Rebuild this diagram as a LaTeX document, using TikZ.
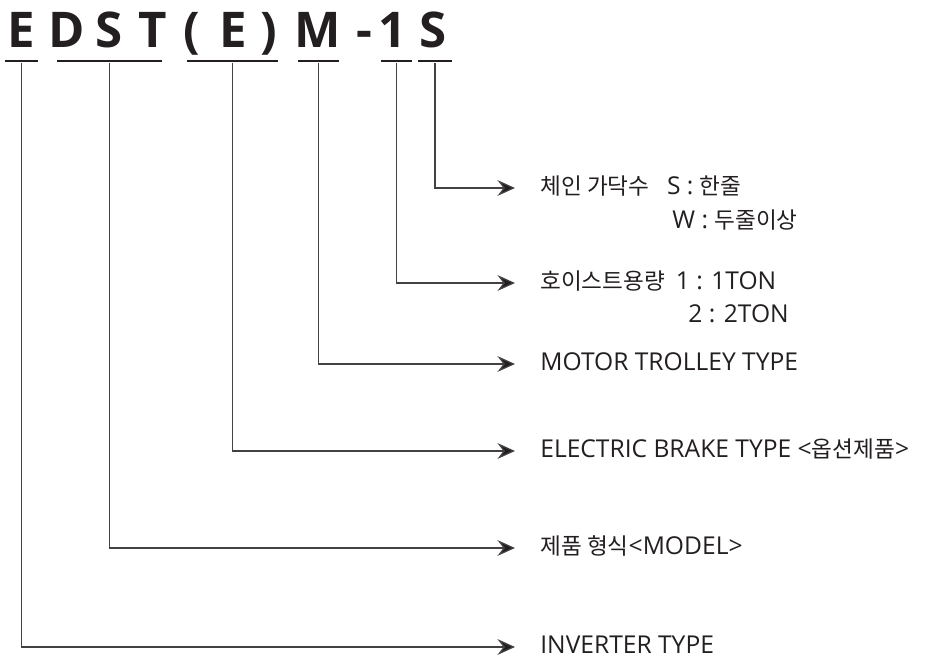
\documentclass[tikz,border=0pt]{standalone}
\usepackage{fontspec}
\setmainfont{Open Sans}
\newfontfamily\kr[Scale=0.92]{Noto Sans CJK KR}
\usetikzlibrary{arrows.meta}
\definecolor{ink}{HTML}{231F20}
\tikzset{
  codechar/.style={anchor=base, inner sep=0pt,
    font=\fontsize{28}{30}\selectfont\bfseries, text=ink},
  codebar/.style={fill=ink, inner sep=0pt, minimum height=1.4pt,
    minimum width=#1*0.02cm},
  lbl/.style={anchor=west, inner xsep=0.5cm, inner ysep=0pt,
    text height=0.72em, text depth=0pt,
    font=\fontsize{14}{16}\selectfont, text=ink},
  lblcont/.style={lbl, inner xsep=0pt},
  leader/.style={draw=ink!85, line width=0.7pt,
    -{Stealth[length=10pt, width=9pt, inset=3.5pt, fill=ink]}}
}

\begin{document}
\begin{tikzpicture}[x=0.02cm, y=-0.02cm]
\useasboundingbox (0,0) rectangle (926,661);

% model code, one letter at a time
\foreach \cx/\ch [count=\i] in {21/E, 67/D, 109/S, 153/T, 192/{(}, 233/E,
    269/{)}, 318/M, 364/-, 393/1, 433/S}
  \node[codechar] (ch\i) at (\cx,48) {\ch};

% underlines
\node[codebar=33]  (barE)   at (21.5,61)  {};
\node[codebar=105] (barDST) at (109.5,61) {};
\node[codebar=91]  (barEB)  at (232.5,61) {};
\node[codebar=41]  (barM)   at (318.5,61) {};
\node[codebar=31]  (barOne) at (396.5,61) {};
\node[codebar=34]  (barS)   at (435,61)   {};

% descriptions
\node[lbl] (lChain) at (515,188) {{\kr 체인 가닥수}\hspace{10pt}S : {\kr 한줄}};
\node[lblcont] (lChainB) at (672,222) {W : {\kr 두줄이상}};
\node[lbl] (lCap) at (515,283) {{\kr 호이스트용량}\hspace{6pt}1 : 1TON};
\node[lblcont] (lCapB) at (688,316) {2 : 2TON};
\node[lbl] (lMotor) at (515,364) {MOTOR TROLLEY TYPE};
\node[lbl] (lBrake) at (515,451) {ELECTRIC BRAKE TYPE <{\kr 옵션제품}>};
\node[lbl] (lModel) at (515,548) {{\kr 제품 형식}<MODEL>};
\node[lbl] (lInv)   at (515,647) {INVERTER TYPE};

\draw[leader] (barS.south)   |- (lChain.west);
\draw[leader] (barOne.south) |- (lCap.west);
\draw[leader] (barM.south)   |- (lMotor.west);
\draw[leader] (barEB.south)  |- (lBrake.west);
\draw[leader] (barDST.south) |- (lModel.west);
\draw[leader] (barE.south)   |- (lInv.west);
\end{tikzpicture}
\end{document}
